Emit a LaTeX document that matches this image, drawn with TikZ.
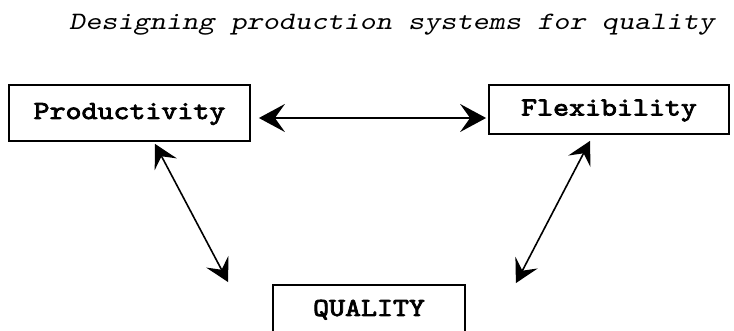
\documentclass[tikz,border=0pt]{standalone}
\usepackage{fontspec}
\newfontfamily\headingfont{lmmono10-regular.otf}[FakeStretch=1.23, FakeSlant=0.2]
\newfontfamily\factorfont{lmmono10-regular.otf}[FakeStretch=1.17, FakeBold=3]
\usetikzlibrary{arrows.meta,calc}

\tikzset{
  factor/.style={draw, line width=1.8pt, inner sep=0pt,
    text height=17pt, text depth=5pt,
    font=\factorfont\fontsize{26}{30}\selectfont},
  widelink/.style={line width=1.8pt,
    {Stealth[length=26pt,width=28pt,inset=10pt]}-{Stealth[length=26pt,width=28pt,inset=10pt]}},
  link/.style={line width=1.6pt,
    {Stealth[length=23pt,width=25pt,inset=9pt]}-{Stealth[length=23pt,width=25pt,inset=9pt]}},
}

\begin{document}
\begin{tikzpicture}[x=1pt,y=-1pt]
  \useasboundingbox (0,0) rectangle (734,331);

  % heading
  \node[anchor=base, inner sep=0pt,
        font=\headingfont\fontsize{25}{30}\selectfont] (title)
        at (392,30) {Designing production systems for quality};

  % the three factors
  \node[factor, minimum width=241pt, minimum height=56pt] (prod) at (129.5,113) {Productivity};
  \node[factor, minimum width=240pt, minimum height=49pt] (flex) at (609,109.5) {Flexibility};
  \node[factor, minimum width=192pt, minimum height=50pt] (qual) at (369,310) {QUALITY};

  % two-way links between the factors
  \draw[widelink] ($(prod.east)+(8,5)$) -- ($(flex.west)+(-2,8.5)$);
  \draw[link] ($(prod.south)+(25.5,2)$) -- ($(qual.north west)+(-44,-2)$);
  \draw[link] ($(flex.south)+(-19,6)$) -- ($(qual.north east)+(50,-1)$);
\end{tikzpicture}
\end{document}
